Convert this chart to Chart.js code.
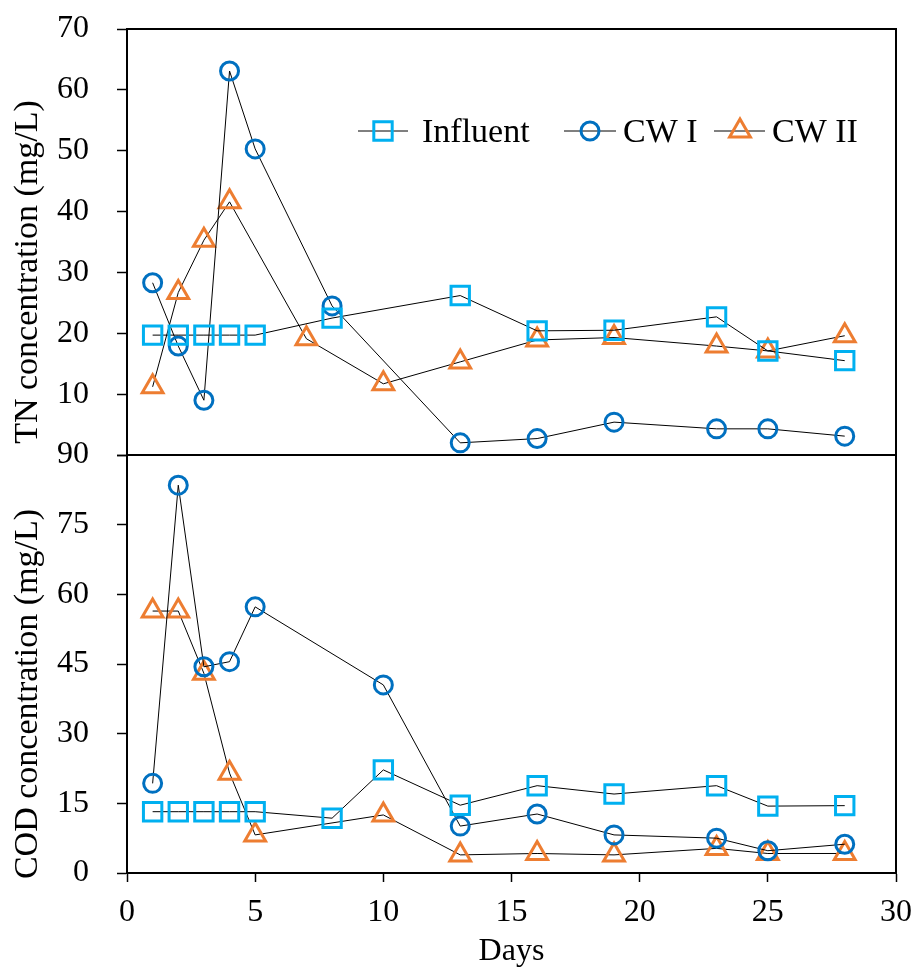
<!DOCTYPE html>
<html>
<head>
<meta charset="utf-8">
<script src="https://cdn.jsdelivr.net/npm/chart.js@4/dist/chart.umd.min.js"></script>
<style>
  html, body { margin: 0; padding: 0; background: #fff; }
  #chart { display: block; }
</style>
</head>
<body>
<canvas id="chart" width="916" height="974"></canvas>
<script>
// TN panel (top)
const tnDays = [1, 2, 3, 4, 5, 8, 13, 16, 19, 23, 25, 28];
const tnDaysCW2 = [1, 2, 3, 4, 7, 10, 13, 16, 19, 23, 25, 28];
const tnInfluent = [19.7, 19.7, 19.7, 19.7, 19.7, 22.5, 26.2, 20.4, 20.5, 22.7, 17.1, 15.5];
const tnCW1 = [28.3, 17.9, 9.0, 63.1, 50.3, 24.5, 2.0, 2.7, 5.4, 4.3, 4.3, 3.1];
const tnCW2 = [11.2, 26.7, 35.3, 41.6, 19.1, 11.7, 15.3, 18.9, 19.3, 17.9, 17.1, 19.6];

// COD panel (bottom)
const codDaysInf = [1, 2, 3, 4, 5, 8, 10, 13, 16, 19, 23, 25, 28];
const codDays = [1, 2, 3, 4, 5, 10, 13, 16, 19, 23, 25, 28];
const codInfluent = [13.2, 13.2, 13.2, 13.2, 13.2, 11.8, 22.2, 14.6, 18.8, 17.0, 18.8, 14.4, 14.5];
const codCW1 = [19.3, 83.5, 44.4, 45.5, 57.3, 40.5, 10.1, 12.7, 8.2, 7.5, 4.8, 6.2];
const codCW2 = [56.4, 56.4, 43.0, 21.5, 8.2, 12.5, 3.9, 4.2, 3.9, 5.3, 4.2, 4.2];

const seriesNames = ['Influent', 'CW I', 'CW II'];
const seriesColors = ['#00B0F0', '#0070C0', '#ED7D31'];
const seriesStyles = ['rect', 'circle', 'triangle'];
const seriesRadius = [13, 9, 12];

const FONT = "'Liberation Serif', 'DejaVu Serif', serif";

function pts(xs, ys) {
  return xs.map((x, i) => ({ x: x, y: ys[i] }));
}

function makeSet(idx, data, axis) {
  return {
    label: seriesNames[idx],
    data: data,
    yAxisID: axis,
    borderColor: '#000',
    borderWidth: 1,
    pointStyle: seriesStyles[idx],
    pointRadius: seriesRadius[idx],
    pointHoverRadius: seriesRadius[idx],
    pointBorderColor: seriesColors[idx],
    pointBackgroundColor: 'rgba(0,0,0,0)',
    pointBorderWidth: 3,
    tension: 0,
    clip: false
  };
}

// no automatic label overflow padding, the layout padding sets the plot box
function noPad(s) {
  s.paddingTop = 0;
  s.paddingBottom = 0;
  s.paddingLeft = 0;
  s.paddingRight = 0;
}

const framePlugin = {
  id: 'frame',
  afterDraw(chart) {
    const ctx = chart.ctx;
    const a = chart.chartArea;
    const yTN = chart.scales.yTN;
    ctx.save();
    ctx.strokeStyle = '#000';
    ctx.lineWidth = 2;
    ctx.beginPath();
    ctx.moveTo(a.left, a.top);
    ctx.lineTo(a.right, a.top);
    ctx.lineTo(a.right, a.bottom);
    ctx.moveTo(a.left, yTN.bottom);
    ctx.lineTo(a.right, yTN.bottom);
    ctx.stroke();

    // axis titles (rotated)
    ctx.fillStyle = '#000';
    ctx.font = '34px ' + FONT;
    ctx.textAlign = 'center';
    ctx.textBaseline = 'middle';
    const yCOD = chart.scales.yCOD;
    [[yTN, 'TN concentration (mg/L)'], [yCOD, 'COD concentration (mg/L)']].forEach(([s, t]) => {
      ctx.save();
      ctx.translate(28, (s.top + s.bottom) / 2 + 30);
      ctx.rotate(-Math.PI / 2);
      ctx.fillText(t, 0, 0);
      ctx.restore();
    });

    // legend
    const ly = 131;
    const items = [
      { x1: 358, x2: 408, mx: 383, tx: 422 },
      { x1: 564, x2: 616, mx: 590, tx: 623 },
      { x1: 714, x2: 765, mx: 740, tx: 772 }
    ];
    ctx.textAlign = 'left';
    ctx.font = '34px ' + FONT;
    items.forEach((it, i) => {
      ctx.strokeStyle = '#000';
      ctx.lineWidth = 1;
      ctx.beginPath();
      ctx.moveTo(it.x1, ly);
      ctx.lineTo(it.x2, ly);
      ctx.stroke();
      ctx.strokeStyle = seriesColors[i];
      ctx.fillStyle = 'rgba(0,0,0,0)';
      ctx.lineWidth = 3;
      Chart.helpers.drawPoint(ctx, {
        pointStyle: seriesStyles[i], radius: seriesRadius[i], rotation: 0, borderWidth: 3
      }, it.mx, ly);
      ctx.fillStyle = '#000';
      ctx.fillText(seriesNames[i], it.tx, ly + 2);
    });
    ctx.restore();
  }
};

new Chart(document.getElementById('chart'), {
  type: 'line',
  data: {
    datasets: [
      makeSet(0, pts(tnDays, tnInfluent), 'yTN'),
      makeSet(1, pts(tnDays, tnCW1), 'yTN'),
      makeSet(2, pts(tnDaysCW2, tnCW2), 'yTN'),
      makeSet(0, pts(codDaysInf, codInfluent), 'yCOD'),
      makeSet(1, pts(codDays, codCW1), 'yCOD'),
      makeSet(2, pts(codDays, codCW2), 'yCOD')
    ]
  },
  options: {
    responsive: false,
    animation: false,
    layout: { padding: { top: 29, right: 20, left: 0, bottom: 0 } },
    plugins: {
      legend: { display: false },
      tooltip: { enabled: false }
    },
    scales: {
      x: {
        type: 'linear',
        min: 0,
        max: 30,
        ticks: { stepSize: 5, autoSkip: false, color: '#000', padding: 11, font: { family: FONT, size: 32 } },
        grid: { drawOnChartArea: false, tickLength: 9, color: '#000', tickWidth: 1.5 },
        border: { color: '#000', width: 2 },
        title: { display: true, text: 'Days', color: '#000', font: { family: FONT, size: 32 }, padding: { top: 0, bottom: 3 } },
        afterFit(s) { s.height = 101; noPad(s); }
      },
      yTN: {
        type: 'linear',
        position: 'left',
        stack: 'panels',
        stackWeight: 426,
        weight: 1,
        min: 0,
        max: 70,
        ticks: {
          stepSize: 10, autoSkip: false, color: '#000', padding: 28, font: { family: FONT, size: 32 },
          callback: (v) => (v === 0 ? '' : v)
        },
        grid: { drawOnChartArea: false, tickLength: 10, color: '#000', tickWidth: 1.5 },
        border: { color: '#000', width: 2 },
        afterFit(s) { s.width = 127; noPad(s); }
      },
      yCOD: {
        type: 'linear',
        position: 'left',
        stack: 'panels',
        stackWeight: 418,
        weight: 0,
        min: 0,
        max: 90,
        ticks: { stepSize: 15, autoSkip: false, color: '#000', padding: 28, font: { family: FONT, size: 32 } },
        grid: { drawOnChartArea: false, tickLength: 10, color: '#000', tickWidth: 1.5 },
        border: { color: '#000', width: 2 },
        afterFit(s) { s.width = 127; noPad(s); }
      }
    }
  },
  plugins: [framePlugin]
});
</script>
</body>
</html>
